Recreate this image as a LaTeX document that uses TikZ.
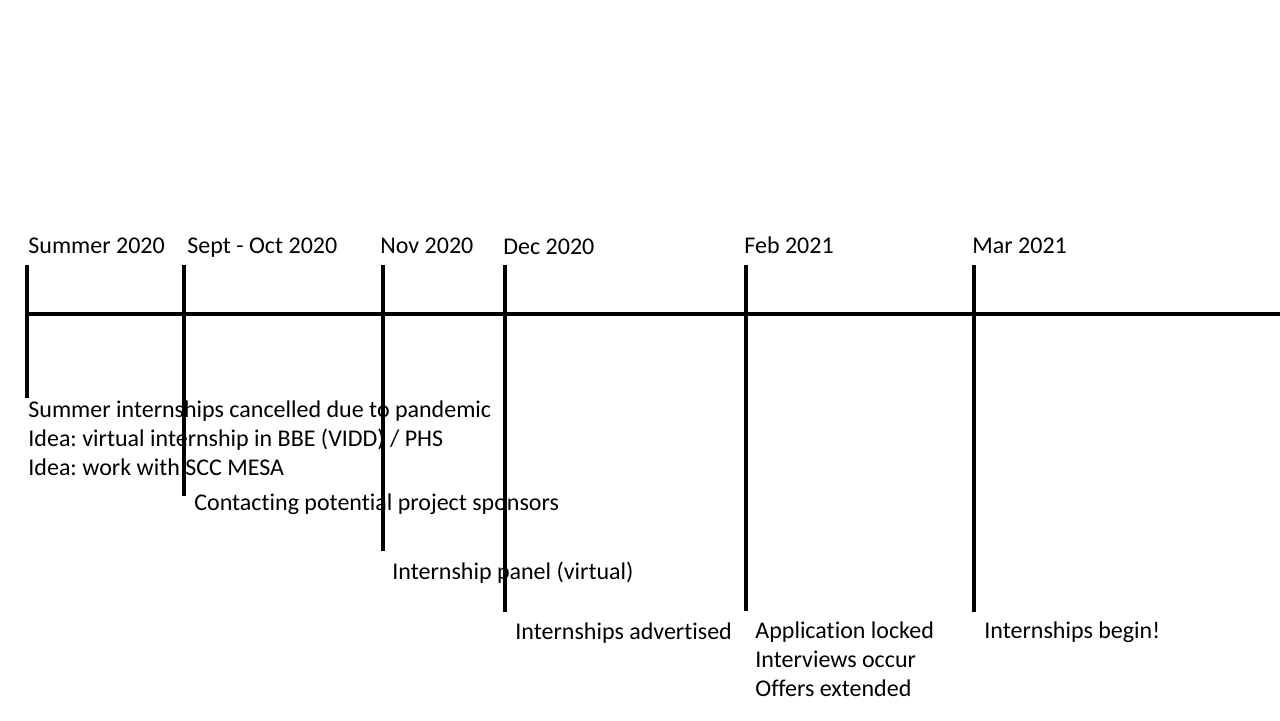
\documentclass[tikz,border=0pt]{standalone}
\usepackage{fontspec}
\setmainfont{Carlito}[Ligatures=NoCommon]
\usetikzlibrary{positioning}
\frenchspacing

\begin{document}
\begin{tikzpicture}[x=0.5pt,y=-0.5pt,
  tick line/.style={line width=1.6pt},
  date label/.style={anchor=base west,inner sep=0pt,font=\fontsize{12}{14.5}\selectfont},
  event text/.style={anchor=base west,inner sep=0pt,align=left,font=\fontsize{12}{14.5}\selectfont}]
	\useasboundingbox (0,0) rectangle (1280,720);
	% Axis
	\coordinate (start) at (27,314);
	\coordinate (end) at (1280,314);
	\draw[tick line] (start) -- (end);
	
	% Ticks
	\coordinate (top1) at (27,265);  \coordinate (bot1) at (27,398);
	\coordinate (top2) at (184,265); \coordinate (bot2) at (184,496);
	\coordinate (top3) at (383,265); \coordinate (bot3) at (383,551);
	\coordinate (top4) at (505,265); \coordinate (bot4) at (505,612);
	\coordinate (top5) at (746,265); \coordinate (bot5) at (746,611);
	\coordinate (top6) at (974,265); \coordinate (bot6) at (974,612);
	\draw[tick line] (top1) -- (bot1);
	\draw[tick line] (top2) -- (bot2);
	\draw[tick line] (top3) -- (bot3);
	\draw[tick line] (top4) -- (bot4);
	\draw[tick line] (top5) -- (bot5);
	\draw[tick line] (top6) -- (bot6);
	
	% Dates
	\node[date label] (summer) at (28,253) {Summer 2020};
	\node[date label] (sept) at (187,253) {Sept - Oct 2020};
	\node[date label] (nov) at (380,253) {Nov 2020};
	\node[date label] (dec) at (503,254) {Dec 2020};
	\node[date label] (feb) at (744,253) {Feb 2021};
	\node[date label] (mar) at (972,253) {Mar 2021};
	
	% Events (base = last line)
	\node[event text] (cancel) at (28,475) {Summer internships cancelled due to pandemic\\Idea: virtual internship in BBE (VIDD) / PHS\\Idea: work with SCC MESA};
	\node[event text] (contact) at (194,510) {Contacting potential project sponsors};
	\node[event text] (panel) at (392,579) {Internship panel (virtual)};
	\node[event text] (advert) at (515,639) {Internships advertised};
	\node[event text] (apply) at (755,696) {Application locked\\Interviews occur\\Offers extended};
	\node[event text] (begin) at (984,638) {Internships begin!};
\end{tikzpicture}
\end{document}
